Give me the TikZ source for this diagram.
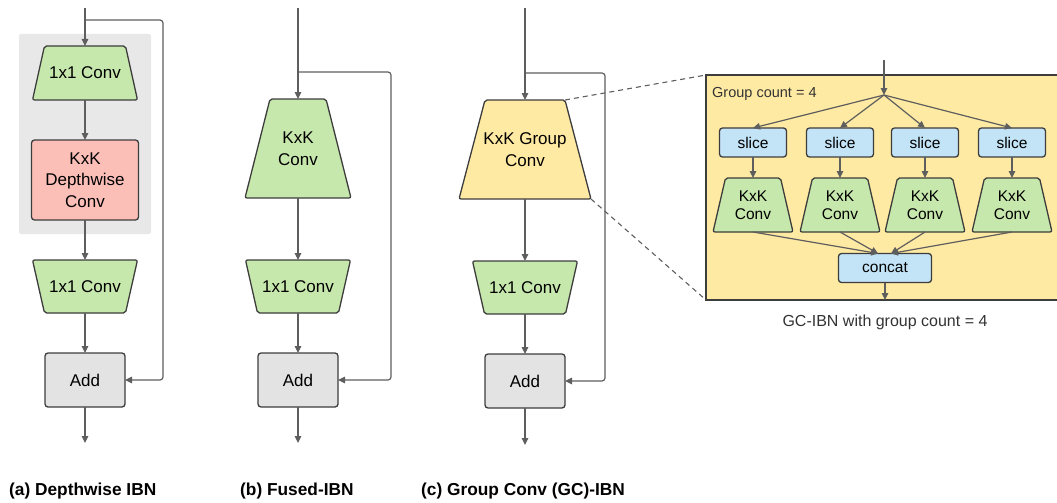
\documentclass[tikz,border=0pt]{standalone}
\usepackage{fontspec}
\setmainfont{Liberation Sans}
\usetikzlibrary{arrows.meta,calc}

\definecolor{linec}{HTML}{5E5E5E}
\definecolor{edgec}{HTML}{3D3D3D}
\definecolor{convgreen}{HTML}{C7E8AC}
\definecolor{dwred}{HTML}{FBBFB8}
\definecolor{gcyellow}{HTML}{FFEAA3}
\definecolor{sliceblue}{HTML}{C3E3F6}
\definecolor{addgray}{HTML}{E3E3E3}
\definecolor{panelgray}{HTML}{E8E8E8}

\newcommand\mainsz{\fontsize{17}{21.5}\selectfont}
\newcommand\innersz{\fontsize{15.5}{18.5}\selectfont}
\newcommand\capsz{\fontsize{17.3}{20}\selectfont\bfseries}

\tikzset{
  wire/.style={draw=linec, line width=1.2pt, -{Triangle[length=7pt,width=6.5pt]}},
  skipwire/.style={draw=linec, line width=1.2pt, rounded corners=3pt, -{Triangle[length=7pt,width=6.5pt]}},
  dashwire/.style={draw=linec, line width=1.1pt, dash pattern=on 5pt off 4pt},
  blk/.style={draw=edgec, line width=1.3pt, inner sep=0pt, outer sep=0pt, align=center},
  rbox/.style={blk, rectangle, rounded corners=3pt},
  addbox/.style={rbox, fill=addgray, minimum width=80pt, minimum height=54pt, font=\mainsz},
  slicebox/.style={rbox, fill=sliceblue, minimum width=67pt, minimum height=29pt, font=\innersz},
  trapshape/.style={draw=edgec, line width=1.3pt, rounded corners=2pt},
  traplabel/.style={inner sep=0pt, outer sep=0pt, align=center},
  caption/.style={anchor=west, font=\capsz, inner sep=0pt},
}

% \trapblock{name}{x}{y}{top width}{bottom width}{height}{fill}{font}{text}
% draws a trapezoid and places a named node of the same height on it
\newcommand\trapblock[9]{%
  \filldraw[trapshape, fill=#7]
    ($(#2,#3)+(-#4/2,-#6/2)$) -- ($(#2,#3)+(#4/2,-#6/2)$) --
    ($(#2,#3)+(#5/2,#6/2)$) -- ($(#2,#3)+(-#5/2,#6/2)$) -- cycle;
  \node[traplabel, font=#8, minimum width=#5pt, minimum height=#6pt] (#1) at (#2,#3) {#9};
}

\begin{document}
\begin{tikzpicture}[x=1pt, y=-1pt]
\useasboundingbox (0,0) rectangle (1057,503);

% ---------------- (a) Depthwise IBN ----------------
\fill[panelgray, rounded corners=2pt] (19,34) rectangle (151,234);
\coordinate (ina) at (85,8);
\coordinate (ja) at (85,20);
\trapblock{c1a}{85}{73}{81}{105}{54}{convgreen}{\mainsz}{1x1 Conv}
\node[rbox, fill=dwred, minimum width=107pt, minimum height=80pt, font=\mainsz] (dwa) at (85,180) {KxK\\Depthwise\\Conv};
\trapblock{c2a}{85}{286.5}{105}{81}{53}{convgreen}{\mainsz}{1x1 Conv}
\node[addbox] (adda) at (85,380) {Add};
\coordinate (outa) at (85,443);

\draw[wire] (ina) -- (c1a.north);
\draw[wire] (c1a.south) -- (dwa.north);
\draw[wire] (dwa.south) -- (c2a.north);
\draw[wire] (c2a.south) -- (adda.north);
\draw[wire] (adda.south) -- (outa);
\draw[skipwire] (ja) -- (163,20) -- (163,380) -- (adda.east);

\node[caption] (capa) at (9,491) {(a) Depthwise IBN};

% ---------------- (b) Fused-IBN ----------------
\coordinate (inb) at (298,8);
\coordinate (jb) at (298,72);
\trapblock{kb}{298}{148.5}{56}{106}{99}{convgreen}{\mainsz}{KxK\\Conv}
\trapblock{c2b}{298}{286.5}{105}{81}{53}{convgreen}{\mainsz}{1x1 Conv}
\node[addbox] (addb) at (298,380) {Add};
\coordinate (outb) at (298,443);

\draw[wire] (inb) -- (kb.north);
\draw[wire] (kb.south) -- (c2b.north);
\draw[wire] (c2b.south) -- (addb.north);
\draw[wire] (addb.south) -- (outb);
\draw[skipwire] (jb) -- (391,72) -- (391,380) -- (addb.east);

\node[caption] (capb) at (240,491) {(b) Fused-IBN};

% ---------------- (c) Group Conv (GC)-IBN ----------------
\coordinate (inc) at (525,8);
\coordinate (jc) at (525,73);
\trapblock{gc}{525}{149.5}{80}{132}{99}{gcyellow}{\mainsz}{KxK Group\\Conv}
\coordinate (gctr) at (565,100);
\coordinate (gcbr) at (591,199);
\trapblock{c2c}{525}{287.5}{105}{81}{53}{convgreen}{\mainsz}{1x1 Conv}
\node[addbox] (addc) at (525,381) {Add};
\coordinate (outc) at (525,445);

\draw[wire] (inc) -- (gc.north);
\draw[wire] (gc.south) -- (c2c.north);
\draw[wire] (c2c.south) -- (addc.north);
\draw[wire] (addc.south) -- (outc);
\draw[skipwire] (jc) -- (605,73) -- (605,381) -- (addc.east);

\node[caption] (capc) at (421,491) {(c) Group Conv (GC)-IBN};

% ---------------- expanded group convolution ----------------
\node[draw=edgec, line width=1.3pt, fill=gcyellow, rectangle, inner sep=0pt, outer sep=0pt,
      minimum width=356pt, minimum height=225pt] (gbox) at (884,187.5) {};
\draw[dashwire] (gctr) -- (gbox.north west);
\draw[dashwire] (gcbr) -- (gbox.south west);

\node[anchor=west, inner sep=0pt, font=\fontsize{14.5}{17}\selectfont, text=black!80] (gcount) at (712,94) {Group count = 4};

\coordinate (gin) at (884,60);
\coordinate (fan) at (884,95);
\draw[wire] (gin) -- (fan);

\foreach \i/\x in {1/753, 2/840, 3/925, 4/1012} {
  \node[slicebox] (s\i) at (\x,142.5) {slice};
  \trapblock{k\i}{\x}{205}{55}{80}{54}{convgreen}{\innersz}{KxK\\Conv}
  \draw[wire] (fan) -- (s\i.north);
  \draw[wire] (s\i.south) -- (k\i.north);
}

\node[rbox, fill=sliceblue, minimum width=93pt, minimum height=29pt, font=\innersz] (cat) at (885,268) {concat};
\draw[wire] (k1.south) -- ([xshift=-7pt]cat.north);
\draw[wire] (k2.south) -- ([xshift=-7pt]cat.north);
\draw[wire] (k3.south) -- ([xshift=6pt]cat.north);
\draw[wire] (k4.south) -- ([xshift=6pt]cat.north);
\draw[wire] (cat.south) -- (cat.south |- gbox.south);

\node[inner sep=0pt, font=\fontsize{16}{19}\selectfont, text=black!80] (gcap) at (885,322) {GC-IBN with group count = 4};

\end{tikzpicture}
\end{document}
